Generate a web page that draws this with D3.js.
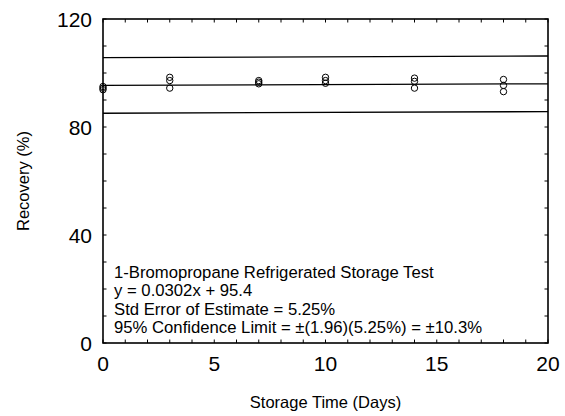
<!DOCTYPE html>
<html>
<head>
<meta charset="utf-8">
<script src="https://cdn.jsdelivr.net/npm/d3@7"></script>
<style>
  html, body { margin: 0; padding: 0; background: #fff; }
  svg { display: block; font-family: "Liberation Sans", Arial, Helvetica, sans-serif; }
</style>
</head>
<body>
<svg id="chart" width="565" height="416"></svg>
<script>
// Storage time (days) and recovery (%) of replicate samples
const days      = [0, 0, 0, 3, 3, 3, 7, 7, 7, 10, 10, 10, 14, 14, 14, 18, 18, 18];
const recovery  = [95.0, 94.4, 93.8, 98.4, 97.2, 94.4, 97.2, 96.6, 96.0, 98.4, 97.2, 96.2, 98.1, 96.9, 94.4, 97.6, 95.4, 93.1];

// Regression fit and 95% confidence limit
const slope = 0.0302;
const intercept = 95.4;
const confLimit = 10.3;
const fitRange = [0, 20];

const xTicks = [0, 5, 10, 15, 20];
const yTicks = [0, 40, 80, 120];
const xMinor = d3.range(0, 21, 1);
const yMinor = d3.range(0, 121, 10);

const noteLines = [
  "1-Bromopropane Refrigerated Storage Test",
  "y = 0.0302x + 95.4",
  "Std Error of Estimate = 5.25%",
  "95% Confidence Limit = \u00b1(1.96)(5.25%) = \u00b110.3%"
];

const svg = d3.select("#chart");
const plotL = 103, plotR = 548, plotT = 19, plotB = 343;

const x = d3.scaleLinear().domain([0, 20]).range([plotL, plotR]);
const y = d3.scaleLinear().domain([0, 120]).range([plotB, plotT]);

const plot = svg.append("g");

// inward minor ticks on all four sides
const tickLen = 3.5;
plot.append("g").selectAll("line").data(xMinor).join("line")
  .attr("x1", d => x(d)).attr("x2", d => x(d))
  .attr("y1", plotB).attr("y2", plotB - tickLen)
  .attr("stroke", "#000").attr("stroke-width", 1);
plot.append("g").selectAll("line").data(xMinor).join("line")
  .attr("x1", d => x(d)).attr("x2", d => x(d))
  .attr("y1", plotT).attr("y2", plotT + tickLen)
  .attr("stroke", "#000").attr("stroke-width", 1);
plot.append("g").selectAll("line").data(yMinor).join("line")
  .attr("x1", plotL).attr("x2", plotL + tickLen)
  .attr("y1", d => y(d)).attr("y2", d => y(d))
  .attr("stroke", "#000").attr("stroke-width", 1);
plot.append("g").selectAll("line").data(yMinor).join("line")
  .attr("x1", plotR).attr("x2", plotR - tickLen)
  .attr("y1", d => y(d)).attr("y2", d => y(d))
  .attr("stroke", "#000").attr("stroke-width", 1);

// regression line and confidence limits
const line = d3.line().x(d => x(d[0])).y(d => y(d[1]));
[-confLimit, 0, confLimit].forEach(off => {
  plot.append("path")
    .datum(fitRange.map(t => [t, intercept + slope * t + off]))
    .attr("d", line)
    .attr("fill", "none")
    .attr("stroke", "#000")
    .attr("stroke-width", 1.3);
});

// data points
plot.append("g").selectAll("circle")
  .data(days.map((d, i) => [d, recovery[i]]))
  .join("circle")
  .attr("cx", d => x(d[0]))
  .attr("cy", d => y(d[1]))
  .attr("r", 3.2)
  .attr("fill", "none")
  .attr("stroke", "#000")
  .attr("stroke-width", 1);

// frame
plot.append("rect")
  .attr("x", plotL).attr("y", plotT)
  .attr("width", plotR - plotL).attr("height", plotB - plotT)
  .attr("fill", "none").attr("stroke", "#000").attr("stroke-width", 1.6);

// tick labels
svg.append("g").selectAll("text").data(xTicks).join("text")
  .attr("x", d => x(d)).attr("y", 370.5)
  .attr("text-anchor", "middle")
  .attr("font-size", 21)
  .text(d => d);
svg.append("g").selectAll("text").data(yTicks).join("text")
  .attr("x", 92).attr("y", d => y(d) + 7.5)
  .attr("text-anchor", "end")
  .attr("font-size", 21)
  .text(d => d);

// axis titles
svg.append("text")
  .attr("x", (plotL + plotR) / 2).attr("y", 408)
  .attr("text-anchor", "middle").attr("font-size", 16.5)
  .text("Storage Time (Days)");
svg.append("text")
  .attr("transform", `translate(29, ${(plotT + plotB) / 2}) rotate(-90)`)
  .attr("text-anchor", "middle").attr("font-size", 16.5)
  .text("Recovery (%)");

// annotation block
svg.append("g").selectAll("text").data(noteLines).join("text")
  .attr("x", 114)
  .attr("y", (d, i) => 278 + i * 18.4)
  .attr("font-size", 16.7)
  .text(d => d);
</script>
</body>
</html>
